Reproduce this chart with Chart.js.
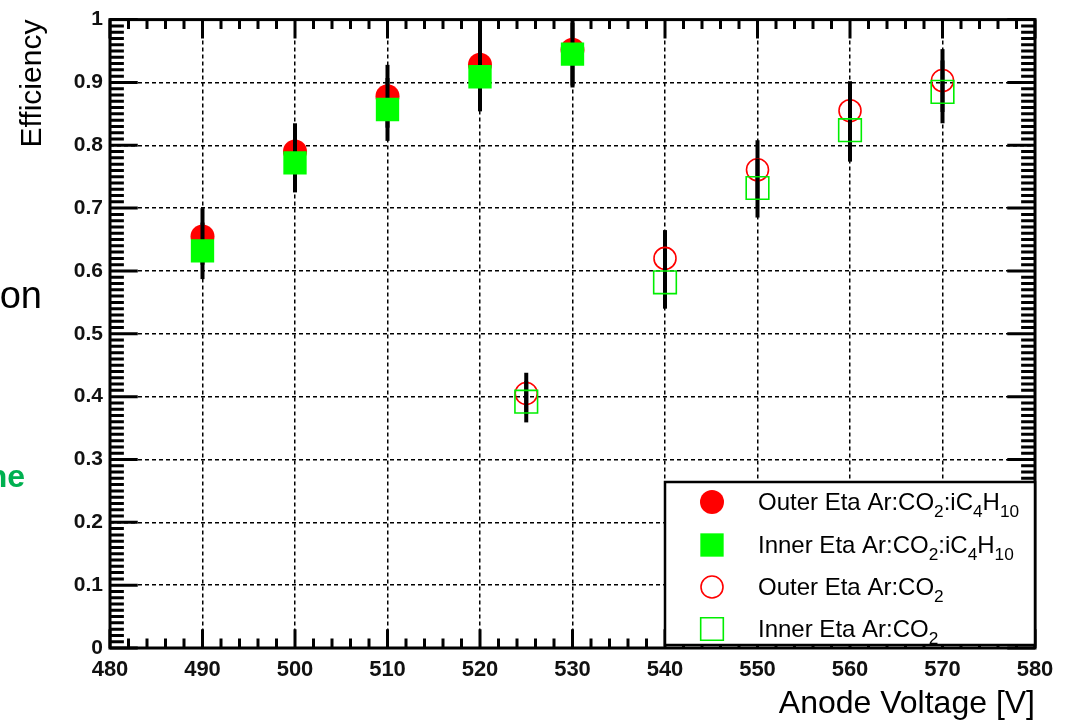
<!DOCTYPE html>
<html>
<head>
<meta charset="utf-8">
<script src="https://cdn.jsdelivr.net/npm/chart.js@4.4.1/dist/chart.umd.min.js"></script>
<style>
  html, body { margin: 0; padding: 0; background: #fff; }
  #wrap { position: relative; width: 1070px; height: 721px; }
</style>
</head>
<body>
<div id="wrap"><canvas id="c"></canvas></div>
<script>
// Ar:CO2:iC4H10 scan
const voltsMix = [490, 500, 510, 520, 530];
const outerMix = [0.655, 0.790, 0.878, 0.928, 0.952];
const outerMixErr = [0.045, 0.045, 0.050, 0.070, 0.060];
const innerMix = [0.632, 0.772, 0.857, 0.909, 0.945];
const innerMixErr = [0.045, 0.047, 0.050, 0.055, 0.050];

// Ar:CO2 scan
const voltsCO2 = [525, 540, 550, 560, 570];
const outerCO2 = [0.405, 0.620, 0.761, 0.855, 0.903];
const outerCO2Err = [0.033, 0.045, 0.047, 0.047, 0.050];
const innerCO2 = [0.392, 0.582, 0.732, 0.824, 0.885];
const innerCO2Err = [0.033, 0.042, 0.047, 0.050, 0.050];

const seriesLabels = [
  'Outer Eta Ar:CO_{2}:iC_{4}H_{10}',
  'Inner Eta Ar:CO_{2}:iC_{4}H_{10}',
  'Outer Eta Ar:CO_{2}',
  'Inner Eta Ar:CO_{2}'
];

const FAM = '"Liberation Sans", Arial, Helvetica, sans-serif';
Chart.defaults.font.family = FAM;
Chart.defaults.color = '#000';

const pts = (xs, ys) => xs.map((x, i) => ({ x, y: ys[i] }));

// black vertical error bars, drawn just before each graph's markers
const errorBars = {
  id: 'errorBars',
  beforeDatasetDraw(chart, args) {
    const ds = chart.data.datasets[args.index];
    if (!ds.err) return;
    const { ctx, chartArea: a } = chart;
    const y = chart.scales.y;
    ctx.save();
    ctx.strokeStyle = '#000';
    ctx.lineWidth = 4;
    args.meta.data.forEach((el, i) => {
      const v = ds.data[i].y, e = ds.err[i];
      const top = Math.max(a.top, y.getPixelForValue(v + e));
      const bot = Math.min(a.bottom, y.getPixelForValue(v - e));
      ctx.beginPath();
      ctx.moveTo(el.x, top);
      ctx.lineTo(el.x, bot);
      ctx.stroke();
    });
    ctx.restore();
  }
};

// ROOT style frame with inward ticks on all four sides
const rootFrame = {
  id: 'rootFrame',
  beforeDatasetsDraw(chart) {
    const { ctx, chartArea: a, scales: { x, y } } = chart;
    const lx = 0.03 * (a.right - a.left);
    const ly = 0.03 * (a.bottom - a.top);
    ctx.save();
    ctx.strokeStyle = '#000';
    ctx.lineWidth = 3;
    ctx.beginPath();
    for (let i = 0; i <= 50; i++) {
      const px = x.getPixelForValue(x.min + i * 2);
      const len = i % 5 === 0 ? ly : ly / 2;
      ctx.moveTo(px, a.bottom); ctx.lineTo(px, a.bottom - len);
      ctx.moveTo(px, a.top); ctx.lineTo(px, a.top + len);
    }
    for (let i = 0; i <= 100; i++) {
      const py = y.getPixelForValue(i / 100);
      const len = i % 10 === 0 ? lx : lx / 2;
      ctx.moveTo(a.left, py); ctx.lineTo(a.left + len, py);
      ctx.moveTo(a.right, py); ctx.lineTo(a.right - len, py);
    }
    ctx.stroke();
    ctx.strokeRect(a.left, a.top, a.right - a.left, a.bottom - a.top);
    ctx.restore();
  }
};

function drawRich(ctx, str, x, y, size) {
  str.split(/(_\{[^}]*\})/).forEach(p => {
    if (!p) return;
    const m = p.match(/^_\{(.*)\}$/);
    if (m) {
      ctx.font = (size * 0.72) + 'px ' + FAM;
      ctx.fillText(m[1], x, y + size * 0.3);
      x += ctx.measureText(m[1]).width;
    } else {
      ctx.font = size + 'px ' + FAM;
      ctx.fillText(p, x, y);
      x += ctx.measureText(p).width;
    }
  });
}

const rootLegend = {
  id: 'rootLegend',
  afterDraw(chart) {
    const { ctx, chartArea: a } = chart;
    const box = { l: 665, t: 482, r: a.right, b: a.bottom - 3 };
    ctx.save();
    ctx.fillStyle = '#fff';
    ctx.fillRect(box.l, box.t, box.r - box.l, box.b - box.t);
    ctx.strokeStyle = '#000';
    ctx.lineWidth = 2.5;
    ctx.strokeRect(box.l, box.t, box.r - box.l, box.b - box.t);
    const rows = [502, 545, 587, 629];
    chart.data.datasets.forEach((ds, i) => {
      ctx.save();
      ctx.fillStyle = ds.backgroundColor;
      ctx.strokeStyle = ds.borderColor;
      ctx.lineWidth = ds.borderWidth;
      Chart.helpers.drawPoint(ctx, { pointStyle: ds.pointStyle, radius: ds.pointRadius, borderWidth: ds.borderWidth, rotation: 0 }, 712, rows[i]);
      ctx.restore();
      ctx.fillStyle = '#000';
      ctx.textBaseline = 'alphabetic';
      ctx.textAlign = 'left';
      drawRich(ctx, ds.label, 758, rows[i] + 8, 24);
    });
    // fragments of the slide text cut off at the left edge
    ctx.textAlign = 'right';
    ctx.fillStyle = '#000';
    ctx.font = '38px ' + FAM;
    ctx.fillText('on', 42, 308);
    ctx.fillStyle = '#00b050';
    ctx.font = 'bold 32px ' + FAM;
    ctx.fillText('ne', 25, 487);
    ctx.restore();
  }
};

new Chart(document.getElementById('c'), {
  type: 'scatter',
  data: {
    datasets: [
      { label: seriesLabels[0], data: pts(voltsMix, outerMix), err: outerMixErr, order: 4,
        pointStyle: 'circle', pointRadius: 12, backgroundColor: '#ff0000', borderColor: '#ff0000', borderWidth: 0 },
      { label: seriesLabels[1], data: pts(voltsMix, innerMix), err: innerMixErr, order: 3,
        pointStyle: 'rect', pointRadius: 16.5, backgroundColor: '#00ff00', borderColor: '#00ff00', borderWidth: 0 },
      { label: seriesLabels[2], data: pts(voltsCO2, outerCO2), err: outerCO2Err, order: 2,
        pointStyle: 'circle', pointRadius: 11, backgroundColor: 'rgba(0,0,0,0)', borderColor: '#ff0000', borderWidth: 1.6 },
      { label: seriesLabels[3], data: pts(voltsCO2, innerCO2), err: innerCO2Err, order: 1,
        pointStyle: 'rect', pointRadius: 16, backgroundColor: 'rgba(0,0,0,0)', borderColor: '#00ee00', borderWidth: 1.6 }
    ]
  },
  options: {
    responsive: true,
    maintainAspectRatio: false,
    animation: false,
    layout: { padding: { left: 0, top: 16, right: 35, bottom: 0 } },
    plugins: { legend: { display: false }, tooltip: { enabled: false } },
    elements: { point: { hoverRadius: 0 } },
    scales: {
      x: {
        min: 480, max: 580,
        afterFit: s => { s.height = 73; },
        grid: { color: '#000', lineWidth: 1.5, drawTicks: false },
        border: { display: false, dash: [4, 3] },
        ticks: { stepSize: 10, padding: 9, font: { size: 22, weight: 'bold' }, color: '#111', maxRotation: 0 },
        title: { display: true, text: 'Anode Voltage [V]', align: 'end', font: { size: 32 }, padding: { top: 0, bottom: -2 } }
      },
      y: {
        min: 0, max: 1,
        afterFit: s => { s.width = 110; },
        grid: { color: '#000', lineWidth: 1.5, drawTicks: false },
        border: { display: false, dash: [4, 3] },
        ticks: { stepSize: 0.1, padding: 7, font: { size: 21, weight: 'bold' }, color: '#111',
          callback: v => (v === 0 || v === 1) ? String(v) : v.toFixed(1) },
        title: { display: true, text: 'Efficiency', align: 'end', font: { size: 30 }, padding: { top: 15, bottom: 0 } }
      }
    }
  },
  plugins: [errorBars, rootFrame, rootLegend]
});
</script>
</body>
</html>
